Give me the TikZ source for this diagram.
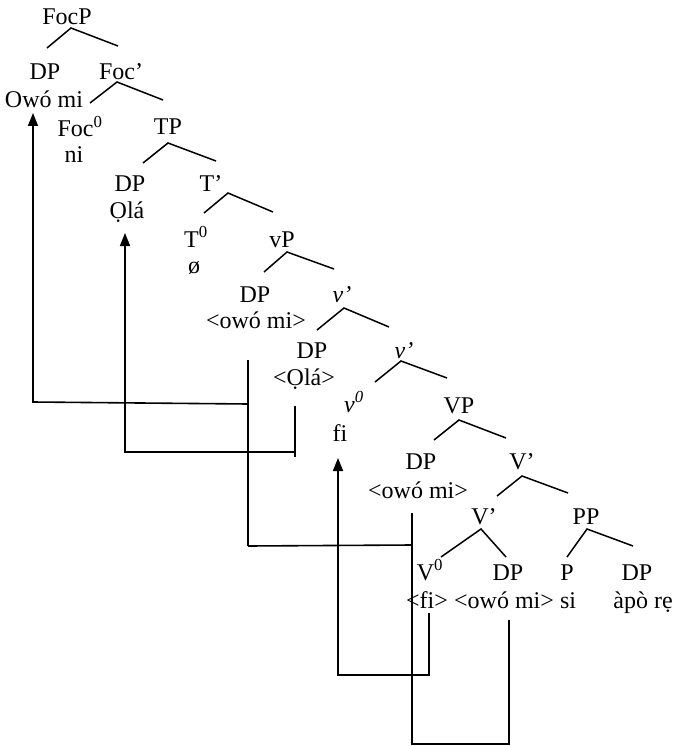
\documentclass[tikz,border=0pt]{standalone}
\usepackage{fontspec}
\setmainfont{Liberation Serif}
\usetikzlibrary{arrows.meta}
\begin{document}
\begin{tikzpicture}[x=1pt,y=-1pt,
  lbl/.style={anchor=base,inner sep=0pt,font=\fontsize{24}{28}\selectfont},
  br/.style={line width=1.5pt},
  mv/.style={line width=1.6pt},
  mvarrow/.style={line width=1.6pt,-{Triangle[width=10pt,length=13pt]}}]
\useasboundingbox (0,0) rectangle (674,746);
% labels
\node[lbl] (focp) at (67,25) {FocP};
\node[lbl] (dp1) at (45,80) {DP};
\node[lbl] (focbar) at (121,80) {Foc’};
\node[lbl] (owomi) at (44,108) {Owó mi};
\node[lbl] (foc0) at (80,137) {Foc\textsuperscript{0}};
\node[lbl] (ni) at (74,163) {ni};
\node[lbl] (tp) at (168,135) {TP};
\node[lbl] (dp2) at (130,191) {DP};
\node[lbl] (tbar) at (211,191) {T’};
\node[lbl] (ola) at (127,218) {Ọlá};
\node[lbl] (t0) at (196,247) {T\textsuperscript{0}};
\node[lbl] (vp) at (282,247) {vP};
\node[lbl] (null) at (194,273) {ø};
\node[lbl] (dp3) at (255,302) {DP};
\node[lbl] (vbar1) at (342,302) {\textit{v’}};
\node[lbl] (tr1) at (256,328) {<owó mi>};
\node[lbl] (dp4) at (312,358) {DP};
\node[lbl] (vbar2) at (404,358) {\textit{v’}};
\node[lbl] (tr2) at (304,385) {<Ọlá>};
\node[lbl] (v0) at (354,412) {\textit{v\textsuperscript{0}}};
\node[lbl] (fi) at (340,441) {fi};
\node[lbl] (VP) at (459,413) {VP};
\node[lbl] (dp5) at (421,469) {DP};
\node[lbl] (Vbar1) at (522,469) {V’};
\node[lbl] (tr3) at (418,498) {<owó mi>};
\node[lbl] (Vbar2) at (484,524) {V’};
\node[lbl] (pp) at (586,524) {PP};
\node[lbl] (V0) at (430,580) {V\textsuperscript{0}};
\node[lbl] (dp6) at (508,580) {DP};
\node[lbl] (p) at (567,580) {P};
\node[lbl] (dp7) at (637,580) {DP};
\node[lbl] (tr4) at (427,608) {<fi>};
\node[lbl] (tr5) at (504,608) {<owó mi>};
\node[lbl] (si) at (568,608) {si};
\node[lbl] (apo) at (643,608) {àpò rẹ};
% branches
\draw[br] (47,48) -- (71,28) -- (118,46);
\draw[br] (90,103) -- (117,82) -- (163,100);
\draw[br] (143,163) -- (168,143) -- (216,161);
\draw[br] (204,213) -- (228,193) -- (273,212);
\draw[br] (264,272) -- (287,252) -- (334,269);
\draw[br] (317,330) -- (344,308) -- (389,327);
\draw[br] (375,382) -- (401,361) -- (447,378);
\draw[br] (434,440) -- (459,420) -- (506,438);
\draw[br] (497,496) -- (522,476) -- (568,493);
\draw[br] (441,557) -- (481,529) -- (506,557);
\draw[br] (567,557) -- (587,529) -- (633,546);
% movement: owó mi
\coordinate (a1) at (509,620);
\coordinate (a2) at (509,744);
\coordinate (a3) at (412,744);
\coordinate (a4) at (412,513);
\coordinate (a5) at (412,545);
\coordinate (a6) at (248,546);
\coordinate (a7) at (248,360);
\coordinate (a8) at (248,404);
\coordinate (a9) at (33,402);
\coordinate (a10) at (33,113);
\draw[mv] (a1) -- (a2) -- (a3) -- (a4);
\draw[mv] (a5) -- (a6);
\draw[mv] (a7) -- (a6);
\draw[mvarrow] (a8) -- (a9) -- (a10);
% movement: Ọlá
\coordinate (b1) at (295,406);
\coordinate (b2) at (295,457);
\coordinate (b3) at (295,452);
\coordinate (b4) at (125,452);
\coordinate (b5) at (125,233);
\draw[mv] (b1) -- (b2);
\draw[mvarrow] (b3) -- (b4) -- (b5);
% movement: fi
\coordinate (c1) at (429,613);
\coordinate (c2) at (429,675);
\coordinate (c3) at (338,675);
\coordinate (c4) at (338,458);
\draw[mvarrow] (c1) -- (c2) -- (c3) -- (c4);
\end{tikzpicture}
\end{document}
